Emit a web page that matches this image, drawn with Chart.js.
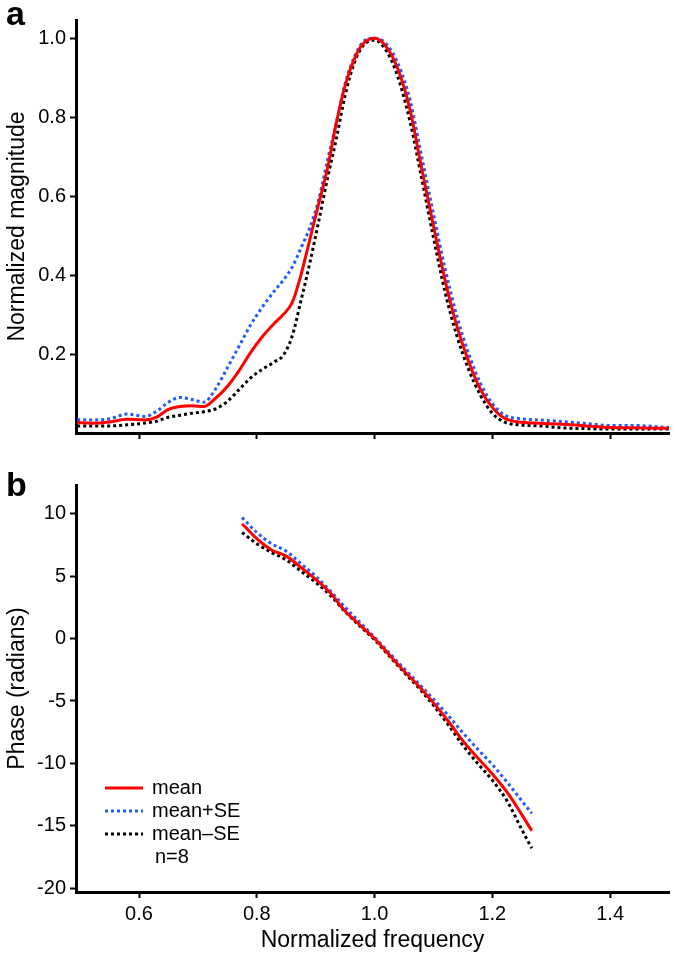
<!DOCTYPE html>
<html>
<head>
<meta charset="utf-8">
<script src="https://cdn.jsdelivr.net/npm/chart.js@4.4.1/dist/chart.umd.min.js"></script>
<style>
  body { margin: 0; background: #fff; }
  #wrap { position: relative; width: 675px; height: 960px; }
  canvas { position: absolute; left: 0; }
  #magChart { top: 0; }
  #phaseChart { top: 460px; }
  .panel { position: absolute; font: bold 34px "Liberation Sans", Arial, sans-serif; color: #000; }
</style>
</head>
<body>
<div id="wrap">
  <canvas id="magChart" width="675" height="460"></canvas>
  <canvas id="phaseChart" width="675" height="500"></canvas>
  <div class="panel" style="left:6px; top:-6px;">a</div>
  <div class="panel" style="left:6px; top:465px;">b</div>
</div>
<script>
// --- panel a: normalized magnitude ---
const freqA = [0.495, 0.52, 0.55, 0.58, 0.61, 0.63, 0.65, 0.67, 0.69, 0.71, 0.73, 0.75, 0.77, 0.79, 0.81, 0.83, 0.845, 0.86, 0.875, 0.89, 0.905, 0.92, 0.935, 0.95, 0.965, 0.98, 1.0, 1.02, 1.04, 1.06, 1.08, 1.10, 1.12, 1.14, 1.16, 1.18, 1.20, 1.22, 1.25, 1.28, 1.32, 1.36, 1.40, 1.44, 1.5];
const magMean = [0.027, 0.025, 0.028, 0.035, 0.033, 0.040, 0.060, 0.067, 0.069, 0.067, 0.088, 0.118, 0.158, 0.205, 0.245, 0.278, 0.300, 0.330, 0.400, 0.490, 0.580, 0.670, 0.785, 0.880, 0.945, 0.985, 1.0, 0.978, 0.920, 0.820, 0.670, 0.525, 0.385, 0.270, 0.180, 0.110, 0.065, 0.038, 0.027, 0.025, 0.022, 0.018, 0.014, 0.013, 0.012];
const magPlus = [0.034, 0.033, 0.036, 0.048, 0.042, 0.055, 0.078, 0.090, 0.085, 0.078, 0.112, 0.165, 0.220, 0.275, 0.320, 0.360, 0.387, 0.420, 0.468, 0.520, 0.590, 0.690, 0.785, 0.885, 0.950, 0.990, 1.0, 0.985, 0.935, 0.845, 0.700, 0.555, 0.415, 0.295, 0.200, 0.125, 0.075, 0.046, 0.036, 0.033, 0.029, 0.024, 0.019, 0.019, 0.014];
const magMinus = [0.018, 0.018, 0.018, 0.021, 0.025, 0.030, 0.040, 0.045, 0.050, 0.054, 0.061, 0.080, 0.110, 0.140, 0.162, 0.180, 0.197, 0.245, 0.335, 0.430, 0.535, 0.645, 0.745, 0.855, 0.935, 0.980, 0.995, 0.968, 0.900, 0.790, 0.645, 0.495, 0.355, 0.245, 0.160, 0.095, 0.050, 0.028, 0.020, 0.018, 0.013, 0.011, 0.010, 0.010, 0.010];

// --- panel b: phase ---
const freqB = [0.775, 0.80, 0.825, 0.85, 0.875, 0.90, 0.925, 0.95, 0.975, 1.0, 1.025, 1.05, 1.075, 1.10, 1.125, 1.15, 1.175, 1.20, 1.225, 1.25, 1.267];
const phaseMean = [9.2, 8.0, 7.1, 6.6, 5.7, 4.75, 3.65, 2.2, 1.1, 0, -1.3, -2.6, -3.8, -5.15, -6.6, -8.2, -9.55, -10.85, -12.3, -14.1, -15.4];
const phasePlus = [9.7, 8.5, 7.6, 7.0, 6.0, 5.0, 3.8, 2.5, 1.3, 0.1, -1.15, -2.4, -3.6, -4.85, -6.15, -7.55, -8.85, -10.1, -11.5, -13.0, -14.0];
const phaseMinus = [8.5, 7.6, 6.9, 6.3, 5.4, 4.5, 3.45, 2.15, 1.0, -0.1, -1.4, -2.7, -3.95, -5.35, -6.9, -8.55, -10.0, -11.35, -13.0, -15.3, -16.8];

const seriesLabels = ["mean", "mean+SE", "mean\u2013SE"];
const nLabel = "n=8";

const xTicks = [0.6, 0.8, 1.0, 1.2, 1.4];
const yTicksA = [0.2, 0.4, 0.6, 0.8, 1.0];
const yTicksB = [10, 5, 0, -5, -10, -15, -20];

Chart.defaults.font.family = "'Liberation Sans', Arial, sans-serif";
Chart.defaults.color = "#000";

const styles = [
  { borderColor: "#ff0000", borderWidth: 3, borderDash: [] },
  { borderColor: "#1f5cff", borderWidth: 3, borderDash: [3, 3] },
  { borderColor: "#000000", borderWidth: 3, borderDash: [3, 3] }
];

function makeDatasets(xs, arrays) {
  return arrays.map((arr, i) => ({
    label: seriesLabels[i],
    data: xs.map((x, j) => ({ x: x, y: arr[j] })),
    borderColor: styles[i].borderColor,
    borderWidth: styles[i].borderWidth,
    borderDash: styles[i].borderDash,
    borderCapStyle: "butt",
    pointRadius: 0,
    fill: false,
    cubicInterpolationMode: "monotone"
  }));
}

function axisGrid() {
  return { display: true, drawOnChartArea: false, drawTicks: true, tickLength: 6, tickWidth: 2, tickColor: "#000" };
}

// legend inside panel b, drawn from the dataset labels
const innerLegend = {
  id: "innerLegend",
  afterDraw(chart, args, opts) {
    if (!opts.show) return;
    const ctx = chart.ctx;
    const a = chart.chartArea;
    const x0 = a.left + 29, x1 = a.left + 67, tx = a.left + 76;
    ctx.save();
    ctx.font = "20px 'Liberation Sans', Arial, sans-serif";
    ctx.fillStyle = "#000";
    ctx.textBaseline = "middle";
    chart.data.datasets.forEach((ds, i) => {
      const y = a.bottom - 104 + i * 23;
      ctx.beginPath();
      ctx.strokeStyle = ds.borderColor;
      ctx.lineWidth = ds.borderWidth;
      ctx.setLineDash(ds.borderDash);
      ctx.moveTo(x0, y);
      ctx.lineTo(x1, y);
      ctx.stroke();
      ctx.setLineDash([]);
      ctx.fillText(ds.label, tx, y);
    });
    ctx.fillText(nLabel, tx + 3, a.bottom - 104 + 3 * 23);
    ctx.restore();
  }
};

function makeChart(id, xs, arrays, yCfg, showXLabels, padTop, xAxisHeight, showLegend) {
  return new Chart(document.getElementById(id), {
    type: "line",
    data: { datasets: makeDatasets(xs, arrays) },
    options: {
      responsive: false,
      animation: false,
      layout: { padding: { top: padTop, right: 6, left: 0, bottom: 0 } },
      plugins: {
        legend: { display: false },
        tooltip: { enabled: false },
        innerLegend: { show: showLegend }
      },
      scales: {
        x: {
          type: "linear",
          min: 0.493,
          max: 1.5,
          afterBuildTicks: s => { s.ticks = xTicks.map(v => ({ value: v })); },
          afterFit: s => { s.height = xAxisHeight; },
          grid: axisGrid(),
          border: { display: true, color: "#000", width: 3 },
          ticks: {
            display: showXLabels,
            padding: 4,
            font: { size: 20 },
            callback: v => v.toFixed(1)
          },
          title: {
            display: showXLabels,
            text: "Normalized frequency",
            font: { size: 23 },
            padding: { top: 0, bottom: 6 }
          }
        },
        y: {
          type: "linear",
          min: yCfg.min,
          max: yCfg.max,
          afterBuildTicks: s => { s.ticks = yCfg.ticks.map(v => ({ value: v })); },
          afterFit: s => { s.width = 76; },
          grid: axisGrid(),
          border: { display: true, color: "#000", width: 3 },
          ticks: {
            padding: 4,
            font: { size: 20 },
            callback: yCfg.fmt
          },
          title: {
            display: true,
            text: yCfg.title,
            font: { size: 23 },
            padding: { top: 4, bottom: 0 }
          }
        }
      }
    },
    plugins: [innerLegend]
  });
}

makeChart("magChart", freqA, [magMean, magPlus, magMinus],
  { min: 0, max: 1.046, ticks: yTicksA, title: "Normalized magnitude", fmt: v => v.toFixed(1) },
  false, 20, 27, false);

makeChart("phaseChart", freqB, [phaseMean, phasePlus, phaseMinus],
  { min: -20.3, max: 12.3, ticks: yTicksB, title: "Phase (radians)", fmt: v => String(v) },
  true, 25, 68, true);
</script>
</body>
</html>
